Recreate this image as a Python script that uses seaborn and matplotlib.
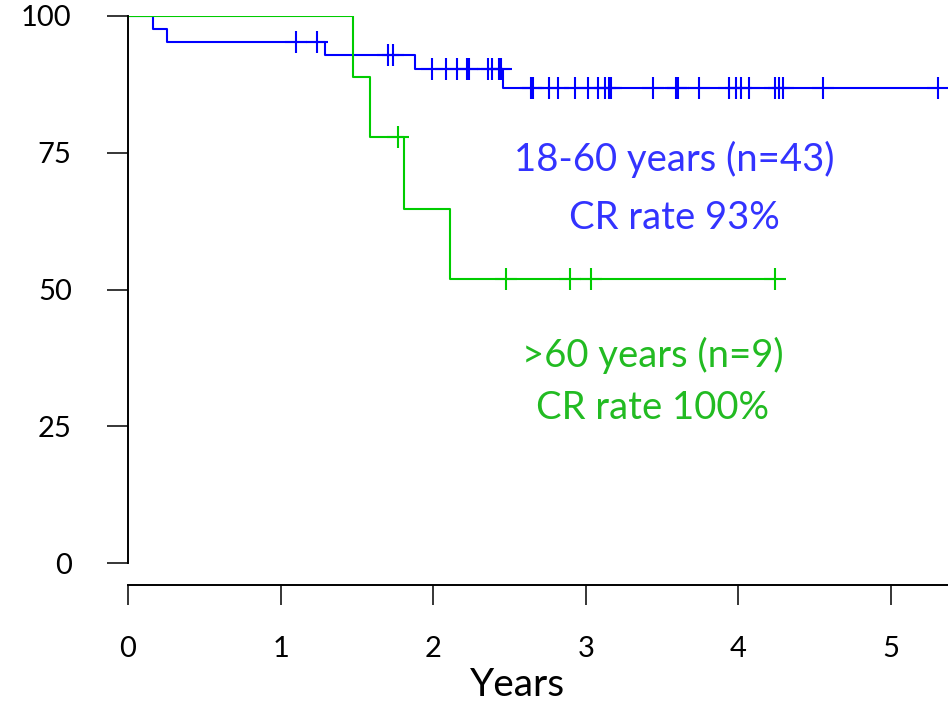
import matplotlib
matplotlib.use("Agg")
import matplotlib.pyplot as plt
import seaborn as sns
import numpy as np
import pandas as pd

# Kaplan-Meier curves (years, percent)
young_times = [0.0, 0.163, 0.254, 1.29, 1.883, 2.455]
young_surv = [100.0, 97.7, 95.3, 92.9, 90.3, 86.8]
young_end = 5.31
young_censor = [1.10, 1.24, 1.706, 1.734, 1.994, 2.082, 2.158, 2.219, 2.232,
                2.357, 2.383, 2.431, 2.444, 2.641, 2.652, 2.761, 2.820, 2.929,
                3.016, 3.078, 3.126, 3.154, 3.165, 3.442, 3.591, 3.602, 3.742,
                3.939, 3.982, 4.015, 4.071, 4.240, 4.268, 4.294, 4.556, 5.310]

old_times = [0.0, 1.477, 1.586, 1.809, 2.110]
old_surv = [100.0, 88.9, 77.8, 64.8, 51.9]
old_end = 4.24
old_censor = [1.767, 2.475, 2.897, 3.032, 4.240]

x_ticks = [0, 1, 2, 3, 4, 5]
y_ticks = [0, 25, 50, 75, 100]

blue_line = "#0000ff"
green_line = "#00cc00"
blue_text = "#3333ff"
green_text = "#22bb22"

sns.set_style("ticks", {"text.color": "black", "xtick.color": "black",
                        "ytick.color": "black", "axes.edgecolor": "black",
                        "axes.labelcolor": "black"})
plt.rcParams["font.family"] = ["Lato", "DejaVu Sans"]


def curve_frame(times, surv, end):
    return pd.DataFrame({"t": times + [end], "s": surv + [surv[-1]]})


def censor_frame(times, surv, censor):
    idx = np.searchsorted(times, censor, side="right") - 1
    return pd.DataFrame({"t": censor, "s": np.array(surv)[idx]})


fig = plt.figure(figsize=(9.48, 7.02), dpi=100)
ax = fig.add_axes([128 / 948, (702 - 585) / 702, 820 / 948, 569 / 702])

sns.lineplot(data=curve_frame(young_times, young_surv, young_end), x="t", y="s",
             drawstyle="steps-post", color=blue_line, linewidth=1.5, ax=ax)
sns.scatterplot(data=censor_frame(young_times, young_surv, young_censor), x="t", y="s",
                marker="+", s=250, color=blue_line, linewidth=1.5, ax=ax)
sns.lineplot(data=curve_frame(old_times, old_surv, old_end), x="t", y="s",
             drawstyle="steps-post", color=green_line, linewidth=1.5, ax=ax)
sns.scatterplot(data=censor_frame(old_times, old_surv, old_censor), x="t", y="s",
                marker="+", s=250, color=green_line, linewidth=1.5, ax=ax)

ax.text(3.58, 73.7, "18-60 years (n=43)", color=blue_text, fontsize=27.5,
        ha="center", va="center")
ax.text(3.58, 63.1, "CR rate 93%", color=blue_text, fontsize=27.5,
        ha="center", va="center")
ax.text(3.44, 38.0, ">60 years (n=9)", color=green_text, fontsize=27.5,
        ha="center", va="center")
ax.text(3.44, 28.3, "CR rate 100%", color=green_text, fontsize=27.5,
        ha="center", va="center")

ax.set_xlim(0, 5.374)
ax.set_ylim(100 - 569 / 5.47, 100)
ax.set_xticks(x_ticks)
ax.set_yticks(y_ticks)
ax.set_xticklabels([str(v) for v in x_ticks])
ax.set_yticklabels([str(v) for v in y_ticks])

ax.spines["top"].set_visible(False)
ax.spines["right"].set_visible(False)
ax.spines["left"].set_bounds(0, 100)
ax.spines["left"].set_linewidth(1.4)
ax.spines["bottom"].set_linewidth(1.4)
ax.tick_params(axis="y", direction="out", length=15, width=1.1, pad=25.5, labelsize=21)
ax.tick_params(axis="x", direction="out", length=14.5, width=1.1, pad=22, labelsize=21)

ax.set_xlabel("Years", fontsize=28, labelpad=4, x=0.4756)
ax.set_ylabel("")

fig.savefig("out.png", dpi=100)
